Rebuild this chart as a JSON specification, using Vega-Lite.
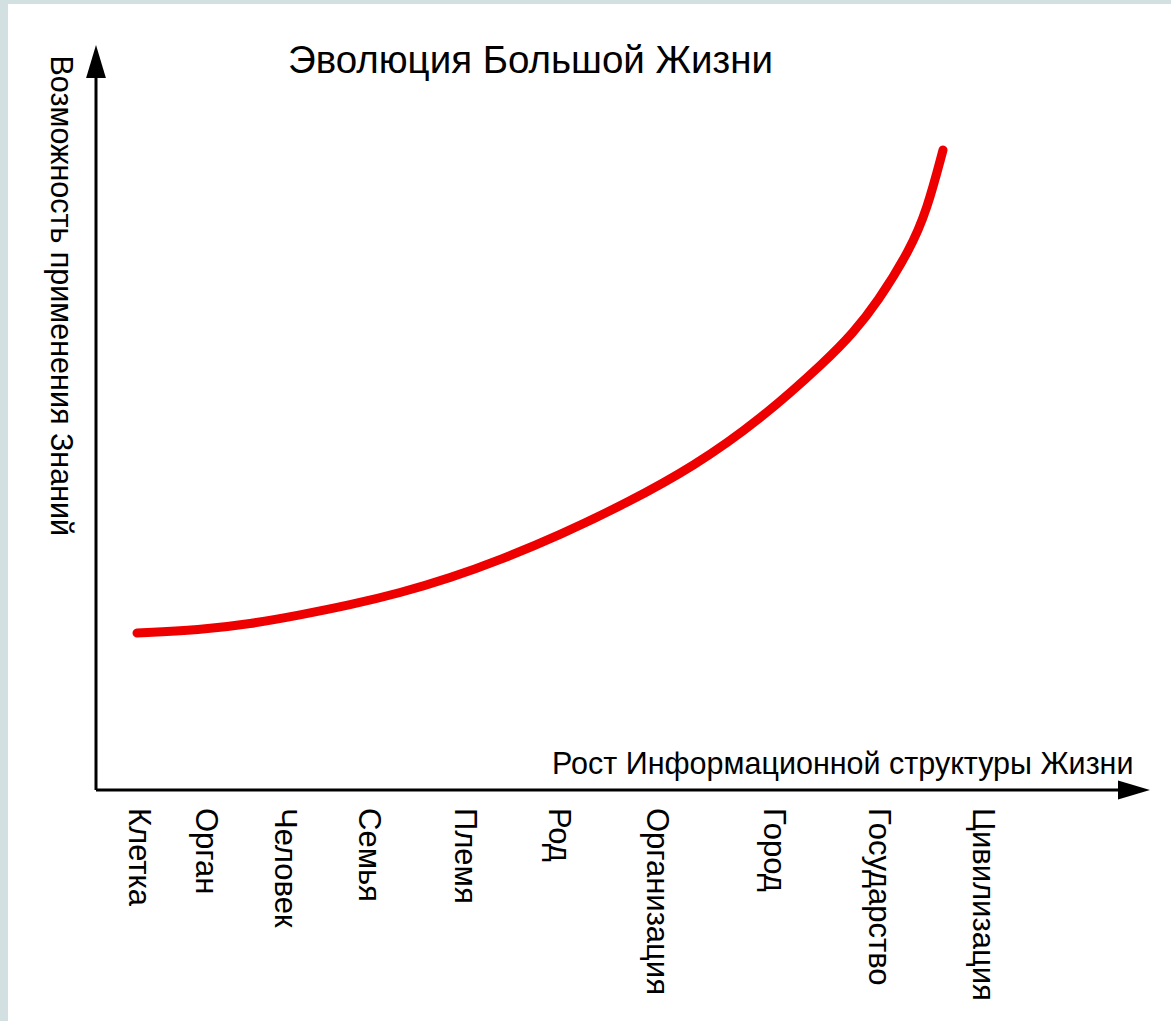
{
  "$schema": "https://vega.github.io/schema/vega-lite/v6.json",
  "width": 1163,
  "height": 1017,
  "autosize": {"type": "none"},
  "padding": {"left": 8, "top": 4, "right": 0, "bottom": 0},
  "background": "#d3e0e2",
  "title": {
    "text": "Эволюция Большой Жизни",
    "anchor": "start",
    "frame": "group",
    "orient": "top",
    "baseline": "alphabetic",
    "offset": 0,
    "dx": 280,
    "dy": 107,
    "fontSize": 38.5,
    "fontWeight": "normal",
    "font": "Liberation Sans",
    "color": "#000000"
  },
  "config": {
    "view": {"fill": "white", "stroke": null},
    "font": "Liberation Sans"
  },
  "datasets": {
    "axes": [
      {"x": 0, "y": 0, "x2": 10.38, "y2": 0},
      {"x": 0, "y": 0, "x2": 0, "y2": 72.85}
    ],
    "curve": [
      {"x": 0.41, "y": 15.7},
      {"x": 1.04, "y": 16.0},
      {"x": 1.54, "y": 16.6},
      {"x": 2.04, "y": 17.5},
      {"x": 2.54, "y": 18.5},
      {"x": 3.04, "y": 19.7},
      {"x": 3.54, "y": 21.2},
      {"x": 4.04, "y": 23.0},
      {"x": 4.64, "y": 25.5},
      {"x": 5.31, "y": 28.7},
      {"x": 5.97, "y": 32.3},
      {"x": 6.64, "y": 37.0},
      {"x": 7.31, "y": 43.0},
      {"x": 7.57, "y": 45.7},
      {"x": 7.81, "y": 48.7},
      {"x": 8.14, "y": 54.0},
      {"x": 8.31, "y": 58.0},
      {"x": 8.47, "y": 64.0}
    ],
    "yarrow": [{"x": 0, "y": 72.85}],
    "xarrow": [{"x": 10.38, "y": 0}],
    "stages": [
      {"stage": "Клетка", "x": 0.42, "y": 0},
      {"stage": "Орган", "x": 1.09, "y": 0},
      {"stage": "Человек", "x": 1.88, "y": 0},
      {"stage": "Семья", "x": 2.72, "y": 0},
      {"stage": "Племя", "x": 3.68, "y": 0},
      {"stage": "Род", "x": 4.62, "y": 0},
      {"stage": "Организация", "x": 5.60, "y": 0},
      {"stage": "Город", "x": 6.77, "y": 0},
      {"stage": "Государство", "x": 7.82, "y": 0},
      {"stage": "Цивилизация", "x": 8.86, "y": 0}
    ]
  },
  "encoding": {
    "x": {
      "field": "x",
      "type": "quantitative",
      "scale": {"domain": [-0.88, 10.75], "nice": false, "zero": false},
      "axis": {
        "orient": "bottom",
        "offset": -231,
        "domain": false,
        "ticks": false,
        "labels": false,
        "grid": false,
        "title": "Рост Информационной структуры Жизни",
        "titleFont": "Liberation Sans",
        "titleFontSize": 30.5,
        "titleFontWeight": "normal",
        "titleColor": "#000000",
        "titleAlign": "right",
        "titleBaseline": "alphabetic",
        "titleX": 1125,
        "titleY": -17
      }
    },
    "y": {
      "field": "y",
      "type": "quantitative",
      "scale": {"domain": [-23.1, 78.6], "nice": false, "zero": false},
      "axis": {
        "orient": "left",
        "offset": 0,
        "domain": false,
        "ticks": false,
        "labels": false,
        "grid": false,
        "title": "Возможность применения Знаний",
        "titleFont": "Liberation Sans",
        "titleFontSize": 30.5,
        "titleFontWeight": "normal",
        "titleColor": "#000000",
        "titleAngle": 90,
        "titleAlign": "left",
        "titleBaseline": "alphabetic",
        "titleX": 42,
        "titleY": 51
      }
    }
  },
  "layer": [
    {
      "data": {"name": "axes"},
      "mark": {"type": "rule", "color": "#000000", "strokeWidth": 3},
      "encoding": {
        "x2": {"field": "x2"},
        "y2": {"field": "y2"}
      }
    },
    {
      "data": {"name": "curve"},
      "mark": {"type": "line", "color": "#ee0000", "strokeWidth": 9, "strokeCap": "round", "interpolate": "basis"}
    },
    {
      "data": {"name": "yarrow"},
      "mark": {"type": "point", "shape": "M-0.6,1L0,-1L0.6,1Z", "size": 1089, "filled": true, "color": "#000000", "opacity": 1}
    },
    {
      "data": {"name": "xarrow"},
      "mark": {"type": "point", "shape": "M-1,-0.6L1,0L-1,0.6Z", "size": 1024, "filled": true, "color": "#000000", "opacity": 1}
    },
    {
      "data": {"name": "stages"},
      "mark": {"type": "text", "angle": 90, "align": "left", "baseline": "middle", "dx": 18, "fontSize": 31, "font": "Liberation Sans", "color": "#000000"},
      "encoding": {
        "text": {"field": "stage"}
      }
    }
  ]
}
